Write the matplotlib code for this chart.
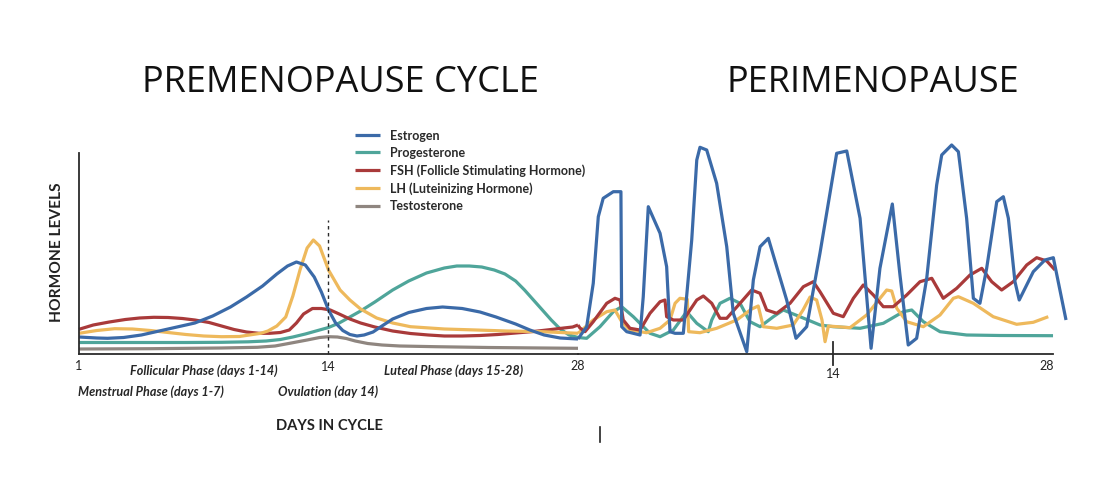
import numpy as np
import matplotlib
matplotlib.use("Agg")
import matplotlib.pyplot as plt
from matplotlib.lines import Line2D

# colours
C_EST = "#3b6aa8"
C_PRO = "#4fa59a"
C_FSH = "#a93a3a"
C_LH = "#eeb95c"
C_TES = "#8f8680"
AX_C = "#2b2b2b"

# ---- premenopause cycle (x = days elapsed, 0..28) ----
est_day = [0, 1, 1.6, 2.5, 3.5, 4.5, 5.5, 6.5, 7.5, 8.5, 9.4, 10.3, 11.1, 11.7, 12.2, 12.7, 13.2, 13.6, 14.0,
           14.4, 14.8, 15.2, 15.6, 16.0, 16.5, 17.0, 17.6, 18.5, 19.5, 20.4, 21.5, 22.5, 23.4, 24.5, 25.3,
           26.1, 27.0, 28.0]
est_lvl = [17, 16, 15.7, 16.5, 19, 23, 27, 31, 38, 47, 57, 68, 80, 88, 92, 89, 77, 62, 44,
           31, 23.5, 19.5, 18, 19, 22, 28, 35, 41.5, 45.5, 47, 45.5, 42, 37, 30, 24,
           19, 16, 15]

pro_day = [0, 2, 4, 6, 8, 9.5, 10.5, 11.3, 12, 12.7, 13.4, 14, 14.6, 15.2, 15.8, 16.6, 17.6, 18.5, 19.5,
           20.5, 21.2, 21.9, 22.6, 23.3, 23.9, 24.5, 25.0, 25.5, 26.0, 26.5, 27.0, 27.5, 28]
pro_lvl = [11.5, 11.5, 11.5, 11.5, 11.7, 12.2, 13, 14.5, 17, 20, 23.5, 26.5, 31, 37, 43, 52, 64, 73, 81,
           86, 88, 88, 87, 84, 80, 73, 64, 54, 44, 34, 25, 19, 16.5]

fsh_day = [0, 0.8, 1.7, 2.6, 3.4, 4.2, 5.0, 5.8, 6.5, 7.3, 8.0, 8.7, 9.4, 10.1, 10.7, 11.3, 11.8, 12.2,
           12.6, 13.1, 13.6, 14.1, 14.6, 15.2, 15.8, 16.6, 17.6, 18.6, 19.6, 20.5, 21.5, 22.5, 23.5,
           24.5, 25.5, 26.5, 27.2, 27.7, 28.0]
fsh_lvl = [24.7, 29, 32, 34.5, 36, 36.7, 36.5, 35.5, 34, 31.5, 28, 24.5, 22, 20.7, 20.7, 21.5, 24, 31,
           40, 45.5, 45.5, 44, 40, 35, 31, 27, 23, 20.5, 19, 18, 18, 18.5, 19.5,
           21, 22.5, 24.5, 26, 27, 29]

lh_day = [0, 1, 2, 3, 4, 5, 6, 7, 8, 9, 10.2, 10.6, 11.1, 11.6, 12.0, 12.4, 12.8, 13.15, 13.5, 14.0,
          14.65, 15.2, 15.8, 16.7, 17.6, 18.6, 20.5, 22.3, 24, 26, 28]
lh_lvl = [20.7, 23.5, 25.3, 25, 23.5, 21.5, 19.5, 18, 17.3, 17.5, 20.7, 23, 28, 37, 58, 84, 106, 114,
          108, 84, 64, 54, 45, 36, 31, 27.3, 25, 24, 23, 22.3, 20.7]

tes_day = [0, 4, 8, 10, 11, 12, 12.8, 13.5, 14, 14.5, 15.0, 15.5, 16.2, 17, 18, 20, 23, 26, 28]
tes_lvl = [5, 5.3, 6, 6.7, 8, 11.3, 14, 16.5, 17.3, 17, 15.5, 13, 10.5, 9, 8, 7.3, 6.5, 6, 5.7]

# ---- perimenopause (x = cycle day on its own scale) ----
pest_day = [-2.68, -2.11, -1.68, -1.35, -1.03, -0.37, 0.13, 0.18, 0.51, 1.38, 1.59, 1.92, 2.69, 3.12,
            3.34, 3.67, 4.21, 4.76, 5.09, 5.30, 5.74, 6.39, 7.05, 7.48, 8.36, 8.79, 9.23, 9.77, 10.32,
            10.97, 11.58, 12.28, 13.15, 14.24, 14.90, 15.77, 16.49, 17.07, 17.88, 18.38, 18.92, 19.47,
            20.13, 20.78, 21.11, 21.76, 22.20, 22.74, 23.18, 23.61, 24.05, 24.71, 25.14, 25.47, 25.90,
            26.18, 27.10, 27.86, 28.41, 29.24]
pest_lvl = [15, 27.3, 70.7, 137.3, 155.7, 162.3, 162.3, 27.3, 22.3, 19, 57.3, 147.3, 120.7, 87.3,
            22.3, 20.7, 20.7, 114, 194, 206.7, 204, 170.7, 107.3, 40.7, 2.3, 74, 107.3, 115.7, 87.3,
            54, 15.7, 27.3, 101, 200.7, 203, 135.7, 5.7, 85.7, 150, 79, 9, 15.7,
            75.7, 169, 199, 209, 202.3, 135.7, 55.7, 50.7, 85.7, 152.3, 157.3, 135.7, 72.3,
            54, 82.3, 94, 96.3, 34]

ppro_day = [-2.68, -2.11, -1.24, -0.37, 0.18, 0.94, 2.03, 2.69, 3.56, 4.43, 5.09, 5.84, 6.07, 6.61,
            7.26, 7.92, 8.57, 9.23, 10.10, 10.75, 11.84, 13.15, 14.02, 15.77, 17.29, 18.60, 19.15,
            19.91, 21.0, 22.74, 24.92, 28.39]
ppro_lvl = [16.5, 15.7, 27.3, 42.3, 47.3, 37.3, 20.7, 17.3, 24, 42.3, 30.7, 22.3, 34, 50.7,
            55.7, 50.7, 32.3, 27.3, 37.3, 44, 37.3, 29, 27.3, 25.7, 30.7, 42.3, 44,
            32.3, 22.3, 19, 18.5, 18.3]

pfsh_day = [-2.68, -2.55, -2.22, -1.68, -0.80, -0.26, 0.07, 0.28, 0.72, 1.38, 2.03, 2.69, 3.01, 3.12,
            3.56, 4.21, 5.09, 5.52, 6.07, 6.61, 7.05, 7.92, 8.68, 9.23, 9.66, 10.32, 11.19, 12.06,
            12.71, 13.15, 14.02, 14.67, 15.33, 15.98, 16.64, 17.29, 17.94, 18.82, 19.69, 20.46,
            21.21, 22.09, 22.96, 23.73, 24.38, 25.03, 25.79, 26.67, 27.32, 27.98, 28.52]
pfsh_lvl = [29, 26, 22.3, 32.3, 50.7, 55.7, 54, 34, 25.7, 24, 40.7, 52.3, 54, 37.3,
            34, 34, 54, 58, 50.7, 35.7, 35.7, 50.7, 64, 60.7, 44, 40.7, 50.7, 67.3,
            72.3, 62.3, 40.7, 37.3, 55.7, 69, 59, 47.3, 47.3, 59, 72.3, 75.7,
            55.7, 65.7, 79, 85.7, 72.3, 64, 72.3, 89, 96.3, 93, 84]

plh_day = [-2.68, -2.55, -1.68, -0.80, -0.26, 0.18, 0.72, 1.81, 2.69, 3.34, 3.67, 3.99, 4.47, 4.56,
           5.30, 6.39, 7.70, 8.68, 9.11, 9.44, 10.32, 11.40, 12.04, 12.50, 12.93, 13.28, 13.48,
           13.70, 15.11, 16.20, 17.51, 17.84, 18.17, 18.82, 19.91, 21.0, 21.87, 22.20, 23.18,
           24.48, 26.01, 27.10, 28.08]
plh_lvl = [20.7, 22.3, 34, 42.3, 44, 32.3, 24, 21.3, 25.7, 34, 50.7, 55.7, 54.7, 22.3,
           21.3, 25.7, 34, 45, 48, 27.3, 25.7, 29, 44, 57, 54, 34, 12.3,
           28, 26.3, 39, 64, 63, 45.7, 32.3, 27.3, 39, 55.7, 57.3, 50.7,
           37.3, 29.7, 31.7, 37.3]

W, H = 1116, 479
fig = plt.figure(figsize=(W / 100, H / 100), dpi=100)

y0 = 354          # pixel row of the x axis
top_lvl = 215
pre_l, pre_r = 79, 578
peri_r = 1070
axL = fig.add_axes([pre_l / W, (H - y0) / H, (pre_r - pre_l) / W, top_lvl / H])
axR = fig.add_axes([pre_r / W, (H - y0) / H, (peri_r - pre_r) / W, top_lvl / H])

p0 = 14 + (pre_r - 833) / 15.29
p1 = 14 + (peri_r - 833) / 15.29
axL.set_xlim(0, 28)
axR.set_xlim(p0, p1)
for ax in (axL, axR):
    ax.set_ylim(0, top_lvl)
    ax.patch.set_alpha(0)
    ax.set_xticks([])
    ax.set_yticks([])
    for s in ("top", "right", "left", "bottom"):
        ax.spines[s].set_visible(False)

axL.spines["left"].set_visible(True)
axL.spines["left"].set_bounds(0, 201)
axL.spines["bottom"].set_visible(True)
axR.spines["bottom"].set_visible(True)
axR.spines["bottom"].set_bounds(p0, 28.39)
for sp in (axL.spines["left"], axL.spines["bottom"], axR.spines["bottom"]):
    sp.set_color(AX_C)
    sp.set_linewidth(1.3)

lw = 2.3
kw = dict(lw=lw, solid_capstyle="butt", solid_joinstyle="round", clip_on=False)
axL.plot(tes_day, tes_lvl, color=C_TES, label="Testosterone", **kw)
axL.plot(pro_day, pro_lvl, color=C_PRO, label="Progesterone", **kw)
axL.plot(fsh_day, fsh_lvl, color=C_FSH, label="FSH (Follicle Stimulating Hormone)", **kw)
axL.plot(lh_day, lh_lvl, color=C_LH, label="LH (Luteinizing Hormone)", **kw)
axL.plot(est_day, est_lvl, color=C_EST, label="Estrogen", **kw)

axR.plot(ppro_day, ppro_lvl, color=C_PRO, **kw)
axR.plot(plh_day, plh_lvl, color=C_LH, **kw)
axR.plot(pfsh_day, pfsh_lvl, color=C_FSH, **kw)
axR.plot(pest_day, pest_lvl, color=C_EST, **kw)

# ovulation marker and perimenopause tick
axL.plot([14, 14], [0, 134], color=AX_C, lw=1.0, ls=(0, (2.5, 2.5)), clip_on=False)
axR.plot([14, 14], [12, -11], color=AX_C, lw=1.3, clip_on=False)

# legend
handles, labels = axL.get_legend_handles_labels()
order = [4, 1, 2, 3, 0]
leg = fig.legend([handles[i] for i in order], [labels[i] for i in order],
                 loc="upper left", bbox_to_anchor=(355 / W, 1 - 129.5 / H),
                 frameon=False, borderpad=0, borderaxespad=0, handlelength=2.0,
                 handletextpad=0.8, labelspacing=0.42,
                 prop=dict(family="Lato", weight="bold", size=9))
for t in leg.get_texts():
    t.set_color("#2a2a2a")

# tick labels and phase labels
tk = dict(family="Lato", size=9, color="#222222", ha="center", va="center")
axL.text(0, -12, "1", **tk)
axL.text(14, -13, "14", **tk)
axL.text(28, -12.5, "28", **tk)
axR.text(14, -19.5, "14", **tk)
axR.text(28, -12, "28", **tk)

it = dict(family="Lato", style="italic", weight="bold", size=9.1, color="#262626", va="center")
axL.text(7.0, -17, "Follicular Phase (days 1-14)", ha="center", **it)
axL.text(21.0, -17, "Luteal Phase (days 15-28)", ha="center", **it)
axL.text(-0.05, -38, "Menstrual Phase (days 1-7)", ha="left", **it)
axL.text(14.0, -38, "Ovulation (day 14)", ha="center", **it)

fig.text(329 / W, 1 - 426 / H, "DAYS IN CYCLE", family="Lato", weight="bold", size=10.6,
         color="#222222", ha="center", va="center")
fig.text(57.5 / W, 1 - 252 / H, "HORMONE LEVELS", family="Lato", weight="bold", size=11.2,
         color="#222222", ha="center", va="center", rotation=90)

fig.text(340 / W, 1 - 83.5 / H, "PREMENOPAUSE CYCLE", family="Open Sans", size=26,
         color="#111111", ha="center", va="center")
fig.text(873 / W, 1 - 83.5 / H, "PERIMENOPAUSE", family="Open Sans", size=26,
         color="#111111", ha="center", va="center")

# stray mark below the axis
fig.add_artist(Line2D([600 / W, 600 / W], [1 - 427 / H, 1 - 442 / H], color="#222222", lw=1.2))

fig.savefig("out.png", dpi=100)
